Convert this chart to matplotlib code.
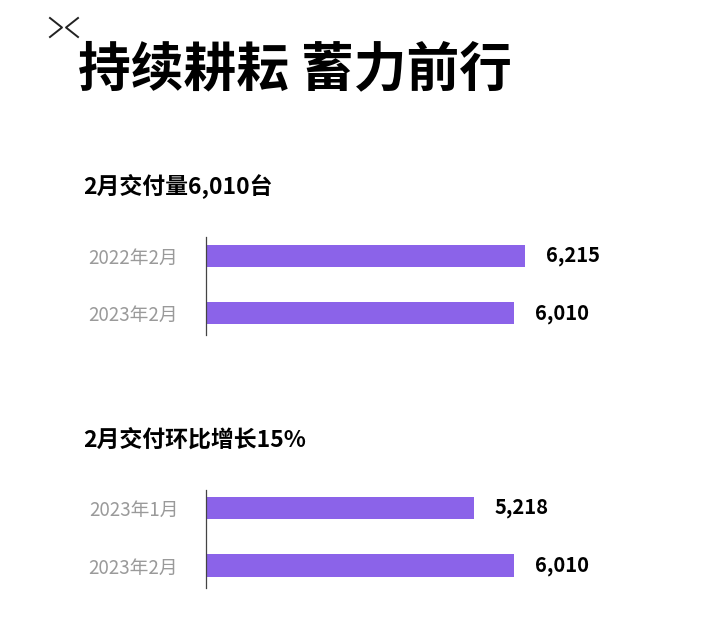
import matplotlib.pyplot as plt
from matplotlib.lines import Line2D

plt.rcParams['font.family'] = ['Noto Sans CJK SC', 'DejaVu Sans']

title = "持续耕耘 蓄力前行"

sub1 = "2月交付量6,010台"
labels1 = ["2022年2月", "2023年2月"]
values1 = [6215, 6010]

sub2 = "2月交付环比增长15%"
labels2 = ["2023年1月", "2023年2月"]
values2 = [5218, 6010]

W, H = 715, 640
bar_color = "#8b63e9"
x_max = 8650  # axes from x=206 to x=650 px


def fx(px):
    return px / W


def fy(py):
    return 1 - py / H


fig = plt.figure(figsize=(7.15, 6.4), dpi=100)
fig.patch.set_facecolor("white")

# logo mark
for pts in ([(50, 18), (62, 27.5), (50, 37)], [(78, 18), (66, 27.5), (78, 37)]):
    xs = [fx(p[0]) for p in pts]
    ys = [fy(p[1]) for p in pts]
    fig.add_artist(Line2D(xs, ys, transform=fig.transFigure, color="#222222", lw=1.4))

fig.text(fx(78), fy(70), title, fontsize=38, fontweight="bold", color="black",
         ha="left", va="center")


def draw_panel(sub, sub_y, labels, values, top, bottom, c0, c1):
    fig.text(fx(83), fy(sub_y), sub, fontsize=16.5, fontweight="bold", color="black",
             ha="left", va="center")
    ax = fig.add_axes([fx(206), fy(bottom), fx(650 - 206), (bottom - top) / H])
    step = c1 - c0
    ax.barh(range(len(values)), values, height=22.5 / step, color=bar_color)
    ax.set_xlim(0, x_max)
    ax.set_ylim(1 + (bottom - c1) / step, -(c0 - top) / step)
    for s in ("top", "right", "bottom"):
        ax.spines[s].set_visible(False)
    ax.spines["left"].set_color("#444444")
    ax.spines["left"].set_linewidth(0.9)
    ax.set_xticks([])
    ax.set_yticks(range(len(labels)))
    ax.set_yticklabels(labels, fontsize=13.5, color="#9a9a9a")
    ax.tick_params(axis="y", length=0, pad=20)
    for i, v in enumerate(values):
        ax.text(v + 400, i, f"{v:,}", fontsize=14.5, fontweight="bold",
                color="black", ha="left", va="center")
    return ax


draw_panel(sub1, 186, labels1, values1, 237, 335, 256, 313)
draw_panel(sub2, 440, labels2, values2, 490, 588, 508, 565.5)

fig.savefig("out.png", dpi=100, facecolor="white")
